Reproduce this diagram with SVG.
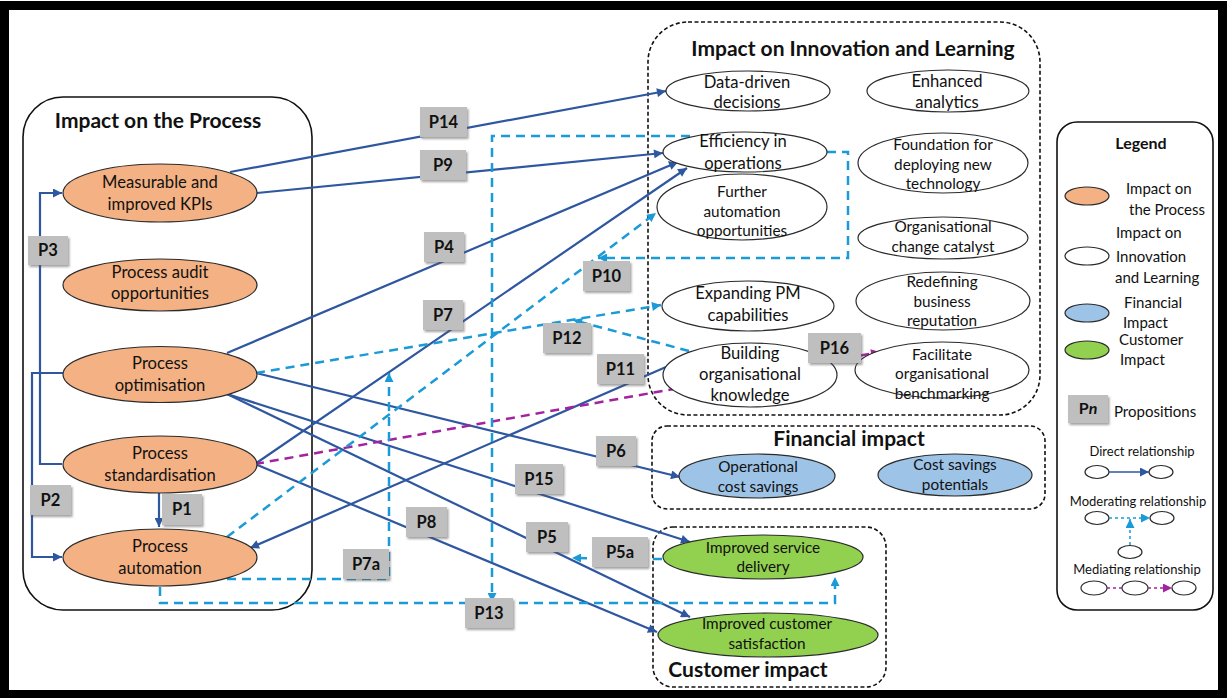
<svg xmlns="http://www.w3.org/2000/svg" width="1227" height="698" viewBox="0 0 1227 698">
  <defs>
    <style>
      text { font-family: "Lato", "Liberation Sans", sans-serif; fill: #111; text-anchor: middle; }
      .t16 { font-size: 16.6px; }
      .t15 { font-size: 15.3px; }
      .t12 { font-size: 13px; }
      .title { font-size: 21px; font-weight: bold; }
      .lbl { font-size: 16.5px; font-weight: bold; }
      .lt { font-size: 15px; text-anchor: start; }
      .proc { fill: #F4B183; stroke: #2b2b2b; stroke-width: 1.2; }
      .inno { fill: #ffffff; stroke: #2b2b2b; stroke-width: 1.2; }
      .fin { fill: #9DC3E6; stroke: #2b2b2b; stroke-width: 1.2; }
      .cust { fill: #92D050; stroke: #2b2b2b; stroke-width: 1.2; }
      .box { fill: none; stroke: #111; stroke-width: 1.6; }
      .dbox { fill: none; stroke: #111; stroke-width: 1.6; stroke-dasharray: 4 2.5; }
      .direct { fill: none; stroke: #2E57A0; stroke-width: 2.2; marker-end: url(#ab); }
      .mod { fill: none; stroke: #1A9AD6; stroke-width: 2.5; stroke-dasharray: 9 6; marker-end: url(#ac); }
      .med { fill: none; stroke: #A3239E; stroke-width: 2.5; stroke-dasharray: 9 6; marker-end: url(#am); }
      .tag { fill: #BFBFBF; filter: url(#sh); }
    </style>
    <marker id="ab" viewBox="0 0 10 10" refX="10" refY="5" markerWidth="10" markerHeight="9" markerUnits="userSpaceOnUse" orient="auto">
      <path d="M0,0 L10,5 L0,10 z" fill="#2E57A0"/>
    </marker>
    <marker id="ac" viewBox="0 0 10 10" refX="10" refY="5" markerWidth="10" markerHeight="9" markerUnits="userSpaceOnUse" orient="auto">
      <path d="M0,0 L10,5 L0,10 z" fill="#1A9AD6"/>
    </marker>
    <marker id="am" viewBox="0 0 10 10" refX="10" refY="5" markerWidth="10" markerHeight="9" markerUnits="userSpaceOnUse" orient="auto">
      <path d="M0,0 L10,5 L0,10 z" fill="#A3239E"/>
    </marker>
    <filter id="sh" x="-20%" y="-20%" width="150%" height="150%">
      <feDropShadow dx="1.5" dy="2" stdDeviation="1" flood-color="#555" flood-opacity="0.55"/>
    </filter>
  </defs>

  <rect width="1227" height="698" fill="#ffffff"/>
  <!-- outer frame -->
  <rect x="4.5" y="5.5" width="1218" height="689" fill="none" stroke="#000" stroke-width="9"/>

  <!-- group containers -->
  <g id="containers">
    <rect class="box" x="23" y="97" width="289" height="513" rx="40"/>
    <text class="title" x="158" y="128">Impact on the Process</text>
    <rect class="dbox" x="648" y="22" width="392" height="393" rx="40"/>
    <text class="title" x="853" y="56">Impact on Innovation and Learning</text>
    <rect class="dbox" x="652" y="426" width="393" height="83" rx="15"/>
    <text class="title" x="849" y="446">Financial impact</text>
    <rect class="dbox" x="653" y="527" width="233" height="160" rx="20"/>
    <text class="title" x="748" y="677">Customer impact</text>
  </g>

  <!-- relationships -->
  <g id="connectors">
    <path class="direct" d="M230,172 L666,91"/>
    <path class="direct" d="M257,193 L663,153"/>
    <path class="direct" d="M227,353 L678,162"/>
    <path class="direct" d="M255,464 L687,168"/>
    <path class="direct" d="M62,464 H40 V193 H62"/>
    <path class="direct" d="M63,373 H32 V557 H62"/>
    <path class="direct" d="M159,493 V527"/>
    <path class="direct" d="M256,373 L680,477"/>
    <path class="direct" d="M227,394 L690,542"/>
    <path class="direct" d="M227,394 L690,617"/>
    <path class="direct" d="M255,464 L657,632"/>
    <path class="direct" d="M666,367 L250,548"/>
    <path class="med" d="M255,464 L880,352"/>
    <path class="mod" d="M256,373 L661,305"/>
    <path class="mod" d="M689,351 L573,320"/>
    <path class="mod" d="M227,537 L656,213"/>
    <path class="mod" d="M827,152 H848 V258 H598"/>
    <path class="mod" d="M690,136 H492 V602"/>
    <path class="mod" d="M160,587 V603 H835 V577"/>
    <path class="mod" d="M227,579 H389 V373"/>
    <path class="mod" d="M662,559 L572,558"/>
  </g>

  <!-- Impact on the Process -->
  <g id="kpis">
    <ellipse class="proc" cx="160" cy="193" rx="97" ry="29"/>
    <text class="t16" x="160" y="188">Measurable and</text>
    <text class="t16" x="160" y="210">improved KPIs</text>
  </g>
  <g id="audit">
    <ellipse class="proc" cx="160" cy="285" rx="97" ry="26"/>
    <text class="t16" x="160" y="278">Process audit</text>
    <text class="t16" x="160" y="299">opportunities</text>
  </g>
  <g id="optimisation">
    <ellipse class="proc" cx="160" cy="374.5" rx="97" ry="28"/>
    <text class="t16" x="160" y="369">Process</text>
    <text class="t16" x="160" y="391">optimisation</text>
  </g>
  <g id="standardisation">
    <ellipse class="proc" cx="160" cy="464.5" rx="97" ry="28.5"/>
    <text class="t16" x="160" y="459">Process</text>
    <text class="t16" x="160" y="481">standardisation</text>
  </g>
  <g id="automation">
    <ellipse class="proc" cx="160" cy="557.5" rx="97" ry="28.5"/>
    <text class="t16" x="160" y="552">Process</text>
    <text class="t16" x="160" y="574">automation</text>
  </g>

  <!-- Impact on Innovation and Learning -->
  <g id="data-driven">
    <ellipse class="inno" cx="748" cy="91" rx="82" ry="20"/>
    <text class="t16" x="747" y="88">Data-driven</text>
    <text class="t16" x="747" y="108">decisions</text>
  </g>
  <g id="analytics">
    <ellipse class="inno" cx="948" cy="91" rx="81" ry="21"/>
    <text class="t16" x="947" y="87">Enhanced</text>
    <text class="t16" x="947" y="108">analytics</text>
  </g>
  <g id="efficiency">
    <ellipse class="inno" cx="745" cy="152" rx="82" ry="20"/>
    <text class="t16" x="743" y="147">Efficiency in</text>
    <text class="t16" x="743" y="169">operations</text>
  </g>
  <g id="foundation">
    <ellipse class="inno" cx="943" cy="163" rx="85" ry="30"/>
    <text class="t15" x="943" y="150">Foundation for</text>
    <text class="t15" x="943" y="170">deploying new</text>
    <text class="t15" x="943" y="189">technology</text>
  </g>
  <g id="further-automation">
    <ellipse class="inno" cx="742" cy="207" rx="85" ry="33"/>
    <text class="t15" x="742" y="197">Further</text>
    <text class="t15" x="742" y="217">automation</text>
    <text class="t15" x="742" y="236">opportunities</text>
  </g>
  <g id="change-catalyst">
    <ellipse class="inno" cx="943" cy="238" rx="85" ry="21"/>
    <text class="t15" x="943" y="232">Organisational</text>
    <text class="t15" x="943" y="252">change catalyst</text>
  </g>
  <g id="expanding-pm">
    <ellipse class="inno" cx="748" cy="306" rx="86" ry="25"/>
    <text class="t16" x="748" y="299">Expanding PM</text>
    <text class="t16" x="748" y="321">capabilities</text>
  </g>
  <g id="reputation">
    <ellipse class="inno" cx="943" cy="301" rx="87" ry="29"/>
    <text class="t15" x="942" y="287">Redefining</text>
    <text class="t15" x="942" y="307">business</text>
    <text class="t15" x="942" y="326">reputation</text>
  </g>
  <g id="org-knowledge">
    <ellipse class="inno" cx="750" cy="375" rx="87" ry="32"/>
    <text class="t16" x="750" y="359">Building</text>
    <text class="t16" x="750" y="380">organisational</text>
    <text class="t16" x="750" y="401">knowledge</text>
  </g>
  <g id="benchmarking">
    <ellipse class="inno" cx="942" cy="370" rx="87" ry="28"/>
    <text class="t15" x="942" y="360">Facilitate</text>
    <text class="t15" x="942" y="379">organisational</text>
    <text class="t15" x="942" y="399">benchmarking</text>
  </g>

  <!-- Financial impact -->
  <g id="op-cost-savings">
    <ellipse class="fin" cx="757" cy="476" rx="78" ry="22"/>
    <text class="t15" x="758" y="472">Operational</text>
    <text class="t15" x="758" y="492">cost savings</text>
  </g>
  <g id="cost-potentials">
    <ellipse class="fin" cx="955" cy="475" rx="77" ry="21"/>
    <text class="t15" x="955" y="470">Cost savings</text>
    <text class="t15" x="955" y="490">potentials</text>
  </g>

  <!-- Customer impact -->
  <g id="service-delivery">
    <ellipse class="cust" cx="763" cy="557" rx="100" ry="22"/>
    <text class="t15" x="763" y="553">Improved service</text>
    <text class="t15" x="763" y="572">delivery</text>
  </g>
  <g id="customer-satisfaction">
    <ellipse class="cust" cx="768" cy="635" rx="110" ry="22"/>
    <text class="t15" x="767" y="629">Improved customer</text>
    <text class="t15" x="767" y="649">satisfaction</text>
  </g>

  <!-- proposition tags -->
  <g id="propositions">
    <g id="p14"><rect class="tag" x="420" y="107" width="47" height="30"/><text class="lbl" x="443.5" y="128">P14</text></g>
    <g id="p9"><rect class="tag" x="420" y="150" width="46" height="30"/><text class="lbl" x="443" y="171">P9</text></g>
    <g id="p4"><rect class="tag" x="424" y="232" width="40" height="30"/><text class="lbl" x="444" y="253">P4</text></g>
    <g id="p7"><rect class="tag" x="423" y="300" width="40" height="30"/><text class="lbl" x="443" y="321">P7</text></g>
    <g id="p10"><rect class="tag" x="583" y="261" width="47" height="30"/><text class="lbl" x="606.5" y="282">P10</text></g>
    <g id="p12"><rect class="tag" x="543" y="323" width="48" height="30"/><text class="lbl" x="567" y="344">P12</text></g>
    <g id="p11"><rect class="tag" x="597" y="354" width="47" height="30"/><text class="lbl" x="620.5" y="375">P11</text></g>
    <g id="p16"><rect class="tag" x="808" y="333" width="53" height="30"/><text class="lbl" x="834.5" y="354">P16</text></g>
    <g id="p6"><rect class="tag" x="596" y="436" width="40" height="30"/><text class="lbl" x="616" y="457">P6</text></g>
    <g id="p15"><rect class="tag" x="515" y="464" width="48" height="30"/><text class="lbl" x="539" y="485">P15</text></g>
    <g id="p8"><rect class="tag" x="406" y="507" width="41" height="30"/><text class="lbl" x="426.5" y="528">P8</text></g>
    <g id="p5"><rect class="tag" x="526" y="522" width="42" height="30"/><text class="lbl" x="547" y="543">P5</text></g>
    <g id="p5a"><rect class="tag" x="592" y="537" width="56" height="30"/><text class="lbl" x="620" y="558">P5a</text></g>
    <g id="p7a"><rect class="tag" x="343" y="549" width="46" height="30"/><text class="lbl" x="366" y="570">P7a</text></g>
    <g id="p13"><rect class="tag" x="465" y="598" width="48" height="30"/><text class="lbl" x="489" y="619">P13</text></g>
    <g id="p3"><rect class="tag" x="28" y="236" width="40" height="29"/><text class="lbl" x="48" y="256">P3</text></g>
    <g id="p2"><rect class="tag" x="30" y="485" width="41" height="30"/><text class="lbl" x="50.5" y="506">P2</text></g>
    <g id="p1"><rect class="tag" x="162" y="494" width="40" height="31"/><text class="lbl" x="182" y="515">P1</text></g>
  </g>

  <!-- legend -->
  <g id="legend">
    <rect class="box" x="1057" y="122" width="156" height="488" rx="20"/>
    <text x="1141" y="149" style="font-size:16px;font-weight:bold">Legend</text>
    <ellipse class="proc" cx="1087" cy="196" rx="22" ry="9"/>
    <text class="lt" x="1126" y="194">Impact on</text>
    <text class="lt" x="1129" y="215">the Process</text>
    <ellipse class="inno" cx="1087" cy="256" rx="22" ry="9"/>
    <text class="lt" x="1116" y="238">Impact on</text>
    <text class="lt" x="1116" y="262">Innovation</text>
    <text class="lt" x="1115" y="283">and Learning</text>
    <ellipse class="fin" cx="1087" cy="313" rx="22" ry="9"/>
    <text class="lt" x="1124" y="308">Financial</text>
    <text class="lt" x="1123" y="328">Impact</text>
    <ellipse class="cust" cx="1087" cy="350" rx="22" ry="9"/>
    <text class="lt" x="1119" y="345">Customer</text>
    <text class="lt" x="1120" y="365">Impact</text>
    <rect class="tag" x="1068" y="395" width="40" height="28"/>
    <text x="1088" y="414" style="font-size:16px;font-weight:bold">P<tspan font-style="italic">n</tspan></text>
    <text class="lt" x="1114" y="417">Propositions</text>

    <text class="t12" x="1142" y="456">Direct relationship</text>
    <ellipse class="inno" cx="1097" cy="472" rx="12" ry="6.5"/>
    <ellipse class="inno" cx="1161" cy="472" rx="12" ry="6.5"/>
    <path d="M1109,472 H1149" fill="none" stroke="#2E57A0" stroke-width="1.6" marker-end="url(#ab)"/>

    <text class="t12" x="1138" y="506">Moderating relationship</text>
    <ellipse class="inno" cx="1097" cy="518" rx="12" ry="6.5"/>
    <ellipse class="inno" cx="1162" cy="518" rx="12" ry="6.5"/>
    <ellipse class="inno" cx="1130" cy="552" rx="12" ry="6.5"/>
    <path d="M1109,518 H1150" fill="none" stroke="#1A9AD6" stroke-width="1.5" stroke-dasharray="3 3" marker-end="url(#ac)"/>
    <path d="M1130,545 V519" fill="none" stroke="#1A9AD6" stroke-width="1.5" stroke-dasharray="3 3" marker-end="url(#ac)"/>

    <text class="t12" x="1137" y="574">Mediating relationship</text>
    <ellipse class="inno" cx="1094" cy="588" rx="13" ry="7"/>
    <ellipse class="inno" cx="1135" cy="588" rx="13" ry="7"/>
    <ellipse class="inno" cx="1184" cy="588" rx="12" ry="7"/>
    <path d="M1107,588 H1122" fill="none" stroke="#A3239E" stroke-width="1.5" stroke-dasharray="3 3"/>
    <path d="M1148,588 H1172" fill="none" stroke="#A3239E" stroke-width="1.5" stroke-dasharray="3 3" marker-end="url(#am)"/>
  </g>
</svg>
